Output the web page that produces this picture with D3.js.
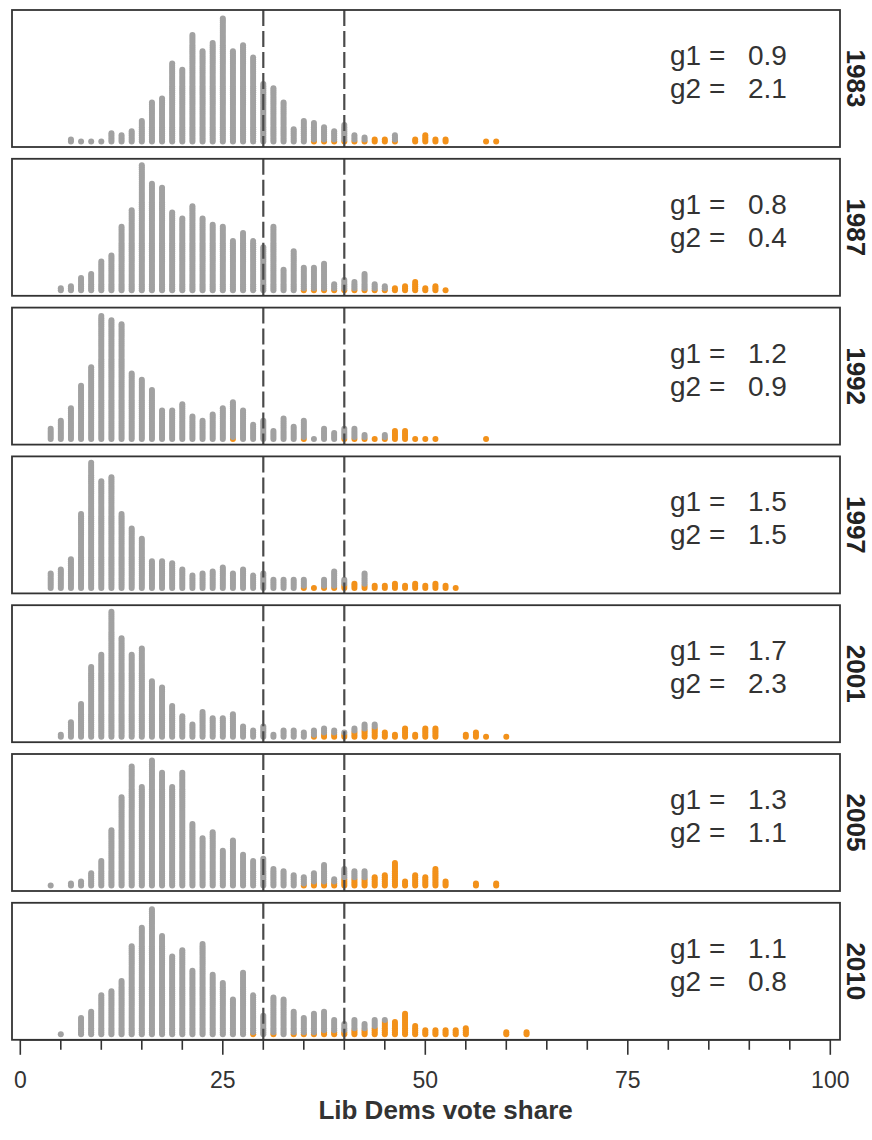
<!DOCTYPE html>
<html>
<head>
<meta charset="utf-8">
<script src="https://cdn.jsdelivr.net/npm/d3@7"></script>
<style>
  body { margin: 0; background: #fff; }
  text { font-family: "Liberation Sans", Arial, sans-serif; }
</style>
</head>
<body>
<div id="chart"></div>
<script>
// election years, one panel each
const years = ["1983", "1987", "1992", "1997", "2001", "2005", "2010"];
const g1 = ["0.9", "0.8", "1.2", "1.5", "1.7", "1.3", "1.1"];
const g2 = ["2.1", "0.4", "0.9", "1.5", "2.3", "1.1", "0.8"];

// constituencies per 1.25-point bin (index 0 = 0%), all seats / orange ones
const all1983 = [0,0,0,0,0, 2,1,1,1,5, 4,6,11,20,22, 39,36,53,45,49, 61,45,48,42,29, 27,20,7,11,10, 8,6,9,4,3, 2,2,4,0,2, 4,2,2,0,0, 0,1,1];
const orange1983 = [0,0,0,0,0, 0,0,0,0,0, 0,0,0,0,0, 0,0,0,0,0, 0,0,0,0,0, 0,0,0,0,1, 1,1,1,1,1, 2,2,1,0,2, 4,2,2,0,0, 0,1,1];

const all1987 = [0,0,0,0,2, 3,7,9,15,18, 32,40,62,53,51, 39,36,42,36,33, 32,25,29,25,22, 32,11,20,12,12, 14,4,6,5,9, 4,3,2,3,5, 2,3,1];
const orange1987 = [0,0,0,0,0, 0,0,0,0,0, 0,0,0,0,0, 0,0,0,0,0, 0,0,0,0,0, 0,0,0,1,1, 1,1,1,1,1, 1,1,2,3,5, 2,3,1];

const all1992 = [0,0,0,6,10, 16,27,36,61,59, 57,33,30,25,15, 15,18,12,10,13, 16,19,15,8,10, 5,11,7,10,1, 6,4,6,6,3, 1,3,5,5,1, 1,1,0,0,0, 0,1];
const orange1992 = [0,0,0,0,0, 0,0,0,0,0, 0,0,0,0,0, 0,0,0,0,0, 0,1,0,0,0, 0,0,0,1,0, 0,0,1,1,1, 1,1,5,5,1, 1,1,0,0,0, 0,1];

const all1997 = [0,0,0,8,10, 15,37,62,53,55, 37,30,25,14,14, 13,10,7,8,9, 11,8,10,7,8, 5,5,5,5,1, 5,9,5,3,8, 2,2,3,2,3, 2,3,2,1];
const orange1997 = [0,0,0,0,0, 0,0,0,0,0, 0,0,0,0,0, 0,0,0,0,0, 0,0,0,0,0, 0,0,0,1,1, 1,1,2,3,2, 2,2,3,2,3, 2,3,2,1];

const all2001 = [0,0,0,0,2, 8,17,35,41,62, 49,41,44,28,25, 16,11,7,13,10, 10,12,6,4,6, 2,4,4,3,4, 5,4,3,5,7, 7,3,2,5,2, 5,5,0,0,2, 3,1,0,1];
const orange2001 = [0,0,0,0,0, 0,0,0,0,0, 0,0,0,0,0, 0,0,0,0,0, 0,0,0,0,0, 0,0,0,0,1, 2,2,2,3,4, 5,3,2,5,2, 5,5,0,0,2, 3,1,0,1];

const all2005 = [0,0,0,1,0, 2,3,7,13,28, 44,59,49,62,56, 49,56,31,24,27, 18,23,16,13,14, 9,8,6,5,7, 11,4,9,8,8, 5,6,12,3,6, 5,9,3,0,0, 2,0,2];
const orange2005 = [0,0,0,0,0, 0,0,0,0,0, 0,0,0,0,0, 0,0,0,0,0, 0,0,0,0,0, 0,0,0,1,2, 2,2,4,4,4, 5,6,12,3,6, 5,9,3,0,0, 2,0,2];

const all2010 = [0,0,0,0,1, 0,9,12,20,22, 27,44,53,62,49, 39,42,32,45,30, 26,18,31,20,10, 19,18,12,9,11, 12,8,6,8,6, 8,8,7,11,5, 3,3,3,3,4, 0,0,0,2,0, 2];
const orange2010 = [0,0,0,0,0, 0,0,0,0,0, 0,0,0,0,0, 0,0,0,0,0, 0,0,0,1,0, 1,0,1,1,1, 2,2,2,3,3, 4,7,7,11,5, 3,3,3,3,4, 0,0,0,2,0, 2];

const allSeats = [all1983, all1987, all1992, all1997, all2001, all2005, all2010];
const orangeSeats = [orange1983, orange1987, orange1992, orange1997, orange2001, orange2005, orange2010];

const binWidth = 1.25;
const cutoffs = [30, 40];
const xTicks = d3.range(0, 101, 5);
const xLabels = [0, 25, 50, 75, 100];

const width = 872, height = 1140;
const panel = {left: 12, right: 840, top: 10, height: 137, step: 148.8};
const grey = "#a1a1a1", orange = "#f2911a";

const svg = d3.select("#chart").append("svg")
    .attr("width", width)
    .attr("height", height);

const x = d3.scaleLinear().domain([0, 100]).range([20.3, 830.3]);
// dot stacking: px per constituency
const yStack = d3.scaleLinear().domain([0, 1]).range([0, 2.05]);

years.forEach((yr, i) => {
    let top = panel.top + i * panel.step;
    let bottom = top + panel.height;
    let g = svg.append("g").attr("class", "panel");

    let dots = [];
    allSeats[i].forEach((n, k) => {
        for (let j = 0; j < n; j++) {
            dots.push({k: k, j: j, hi: j < orangeSeats[i][k]});
        }
    });

    g.selectAll("circle")
        .data(dots)
        .join("circle")
        .attr("cx", d => x(d.k * binWidth))
        .attr("cy", d => bottom - 5.5 - yStack(d.j))
        .attr("r", 3)
        .attr("fill", d => d.hi ? orange : grey);

    g.selectAll(".cut")
        .data(cutoffs)
        .join("line")
        .attr("class", "cut")
        .attr("x1", d => x(d)).attr("x2", d => x(d))
        .attr("y1", top).attr("y2", bottom)
        .attr("stroke", "#4a4a4a")
        .attr("stroke-width", 2.2)
        .attr("stroke-dasharray", "16,5");

    g.append("rect")
        .attr("x", panel.left).attr("y", top)
        .attr("width", panel.right - panel.left)
        .attr("height", panel.height)
        .attr("fill", "none")
        .attr("stroke", "#333")
        .attr("stroke-width", 1.8);

    // g1 / g2 labels
    [["g1 =", g1[i], 55], ["g2 =", g2[i], 88]].forEach(row => {
        g.append("text")
            .attr("x", 670).attr("y", top + row[2])
            .attr("font-size", 28).attr("fill", "#333")
            .text(row[0]);
        g.append("text")
            .attr("x", 748).attr("y", top + row[2])
            .attr("font-size", 28).attr("fill", "#333")
            .text(row[1]);
    });

    g.append("text")
        .attr("transform", `translate(856, ${(top + bottom) / 2}) rotate(90)`)
        .attr("text-anchor", "middle")
        .attr("dominant-baseline", "central")
        .attr("font-size", 26)
        .attr("font-weight", "bold")
        .attr("fill", "#222")
        .text(yr);
});

// x axis under the last panel
const axisY = panel.top + 6 * panel.step + panel.height;
const axis = svg.append("g").attr("class", "axis");

axis.selectAll(".tick")
    .data(xTicks)
    .join("line")
    .attr("class", "tick")
    .attr("x1", d => x(d)).attr("x2", d => x(d))
    .attr("y1", axisY)
    .attr("y2", d => axisY + (xLabels.includes(d) ? 15 : 10))
    .attr("stroke", "#333")
    .attr("stroke-width", 1.6);

axis.append("line")
    .attr("x1", x(0)).attr("x2", x(100))
    .attr("y1", axisY).attr("y2", axisY)
    .attr("stroke", "#333").attr("stroke-width", 1.8);

axis.selectAll(".lab")
    .data(xLabels)
    .join("text")
    .attr("class", "lab")
    .attr("x", d => x(d))
    .attr("y", axisY + 48)
    .attr("text-anchor", "middle")
    .attr("font-size", 23)
    .attr("fill", "#333")
    .text(d => d);

axis.append("text")
    .attr("x", x(52.5))
    .attr("y", axisY + 79)
    .attr("text-anchor", "middle")
    .attr("font-size", 26)
    .attr("font-weight", "bold")
    .attr("fill", "#333")
    .text("Lib Dems vote share");
</script>
</body>
</html>
